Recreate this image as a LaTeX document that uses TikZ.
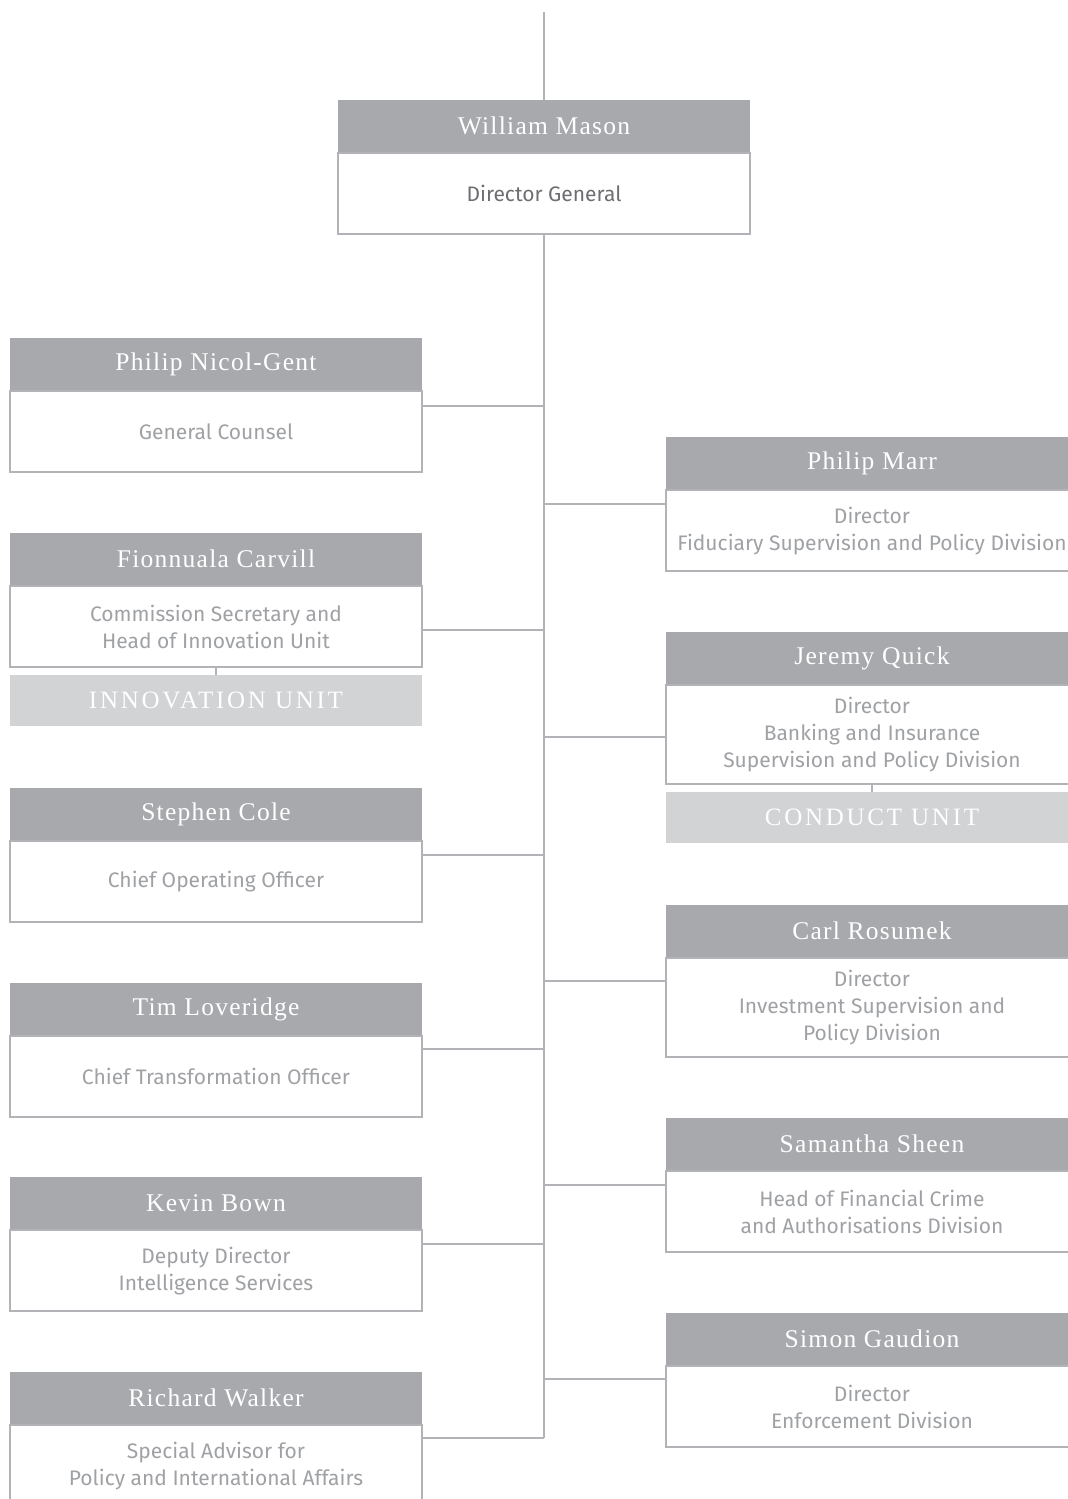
\documentclass[tikz,border=0pt]{standalone}
\usepackage{fontspec}
\setmainfont{Liberation Serif}
\setsansfont{Fira Sans}
\newfontfamily\namefam[LetterSpace=5]{Liberation Serif}
\newfontfamily\unitfam[LetterSpace=11]{Liberation Serif}
\usetikzlibrary{positioning}

\definecolor{headgray}{HTML}{A7A9AC}
\definecolor{unitgray}{HTML}{D1D3D4}
\definecolor{linegray}{HTML}{B1B3B6}
\definecolor{rolegray}{HTML}{9FA1A4}
\definecolor{darkgray}{HTML}{6D6E71}

\tikzset{
  namebar/.style={fill=headgray, text=white, minimum width=412pt, minimum height=52pt,
    inner sep=0pt, anchor=north, font=\namefam\fontsize{25.5}{30}\selectfont},
  rolebox/.style={draw=linegray, line width=1.3pt, fill=white, minimum width=412pt,
    minimum height=81pt, inner sep=0pt, align=center, text=rolegray,
    font=\sffamily\fontsize{21}{27}\selectfont},
  tallbox/.style={rolebox, minimum height=99pt},
  unitbar/.style={fill=unitgray, text=white, minimum width=412pt, minimum height=51pt,
    inner sep=0pt, anchor=north, font=\unitfam\fontsize{25}{30}\selectfont},
  link/.style={draw=linegray, line width=1.3pt},
}

\begin{document}
\begin{tikzpicture}[x=1pt, y=-1pt]
\useasboundingbox (0,0) rectangle (1068,1499);

% director general
\node[namebar] (mason) at (544,100) {William Mason};
\node[rolebox, below=0pt of mason, text=darkgray] (mason-body) {Director General};

% left column
\node[namebar] (nicol) at (216,338) {Philip Nicol-Gent};
\node[rolebox, below=0pt of nicol] (nicol-body) {General Counsel};
\node[namebar] (carvill) at (216,533) {Fionnuala Carvill};
\node[rolebox, below=0pt of carvill] (carvill-body) {Commission Secretary and\\Head of Innovation Unit};
\node[unitbar] (innov) at (216,675) {INNOVATION UNIT};
\node[namebar] (cole) at (216,788) {Stephen Cole};
\node[rolebox, below=0pt of cole] (cole-body) {Chief Operating Officer};
\node[namebar] (loveridge) at (216,983) {Tim Loveridge};
\node[rolebox, below=0pt of loveridge] (loveridge-body) {Chief Transformation Officer};
\node[namebar] (bown) at (216,1177) {Kevin Bown};
\node[rolebox, below=0pt of bown] (bown-body) {Deputy Director\\Intelligence Services};
\node[namebar] (walker) at (216,1372) {Richard Walker};
\node[rolebox, below=0pt of walker] (walker-body) {Special Advisor for\\Policy and International Affairs};

% right column
\node[namebar] (marr) at (872,437) {Philip Marr};
\node[rolebox, below=0pt of marr] (marr-body) {Director\\Fiduciary Supervision and Policy Division};
\node[namebar] (quick) at (872,632) {Jeremy Quick};
\node[tallbox, below=0pt of quick] (quick-body) {Director\\Banking and Insurance\\Supervision and Policy Division};
\node[unitbar] (conduct) at (872,792) {CONDUCT UNIT};
\node[namebar] (rosumek) at (872,905) {Carl Rosumek};
\node[tallbox, below=0pt of rosumek] (rosumek-body) {Director\\Investment Supervision and\\Policy Division};
\node[namebar] (sheen) at (872,1118) {Samantha Sheen};
\node[rolebox, below=0pt of sheen] (sheen-body) {Head of Financial Crime\\and Authorisations Division};
\node[namebar] (gaudion) at (872,1313) {Simon Gaudion};
\node[rolebox, below=0pt of gaudion] (gaudion-body) {Director\\Enforcement Division};

% trunk and taps
\coordinate (top) at (544,12);
\coordinate (tap-nicol) at (544,406);
\coordinate (tap-marr) at (544,504);
\coordinate (tap-carvill) at (544,630);
\coordinate (tap-quick) at (544,737);
\coordinate (tap-cole) at (544,855);
\coordinate (tap-rosumek) at (544,981);
\coordinate (tap-loveridge) at (544,1049);
\coordinate (tap-sheen) at (544,1185);
\coordinate (tap-bown) at (544,1244);
\coordinate (tap-gaudion) at (544,1379);
\coordinate (tap-walker) at (544,1438);

\draw[link] (top) -- (mason.north);
\draw[link] (mason-body.south) -- (tap-walker);
\draw[link] (tap-nicol) -- (tap-nicol -| nicol-body.east);
\draw[link] (tap-carvill) -- (tap-carvill -| carvill-body.east);
\draw[link] (tap-cole) -- (tap-cole -| cole-body.east);
\draw[link] (tap-loveridge) -- (tap-loveridge -| loveridge-body.east);
\draw[link] (tap-bown) -- (tap-bown -| bown-body.east);
\draw[link] (tap-walker) -- (tap-walker -| walker-body.east);
\draw[link] (tap-marr) -- (tap-marr -| marr-body.west);
\draw[link] (tap-quick) -- (tap-quick -| quick-body.west);
\draw[link] (tap-rosumek) -- (tap-rosumek -| rosumek-body.west);
\draw[link] (tap-sheen) -- (tap-sheen -| sheen-body.west);
\draw[link] (tap-gaudion) -- (tap-gaudion -| gaudion-body.west);

% units
\draw[link] (carvill-body.south) -- (innov.north);
\draw[link] (quick-body.south) -- (conduct.north);

\end{tikzpicture}
\end{document}
